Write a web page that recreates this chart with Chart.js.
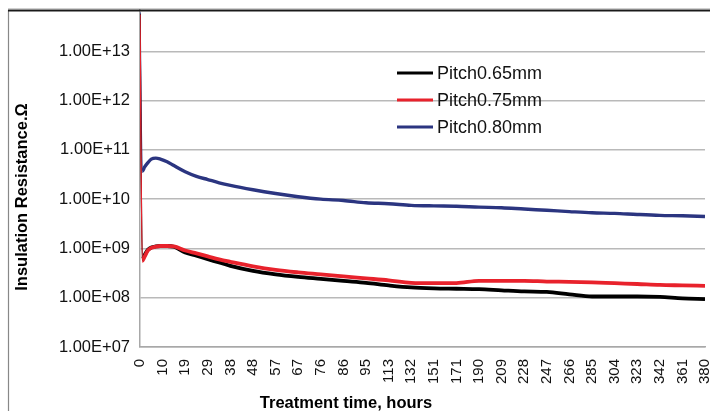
<!DOCTYPE html>
<html>
<head>
<meta charset="utf-8">
<script src="https://cdn.jsdelivr.net/npm/chart.js@4/dist/chart.umd.min.js"></script>
<style>
  html, body { margin: 0; padding: 0; background: #fff; }
  #wrap { width: 710px; height: 411px; position: relative; }
</style>
</head>
<body>
<div id="wrap"><canvas id="myChart"></canvas></div>
<script>
// x is the logger sample number; a time label sits every 20 samples
const samplesPerLabel = 20;
const hourLabels = ['0', '10', '19', '29', '38', '48', '57', '67', '76', '86', '95',
    '113', '132', '151', '171', '190', '209', '228', '247', '266', '285', '304', '323', '342', '361', '380'];
const sampleIdx = [0, 2, 4, 7, 10, 14, 18, 24, 30, 40, 50, 60, 70, 80,
    100, 120, 140, 160, 180, 200, 220, 240, 260, 280, 300, 320, 340, 360, 380, 400, 420, 440, 460, 480, 500];

const pitch065 = [5.8e13, 6.0e8, 7.3e8, 9.4e8, 1.05e9, 1.1e9, 1.12e9, 1.12e9, 1.08e9, 8.3e8, 7.1e8, 6.05e8, 5.2e8, 4.43e8,
    3.5e8, 2.98e8, 2.65e8, 2.41e8, 2.19e8, 2.0e8, 1.78e8, 1.62e8, 1.55e8, 1.52e8, 1.49e8, 1.41e8, 1.34e8, 1.31e8, 1.17e8, 1.06e8, 1.06e8, 1.06e8, 1.04e8, 9.7e7, 9.4e7];
const pitch075 = [5.6e13, 5.6e8, 6.75e8, 9.1e8, 1.03e9, 1.09e9, 1.12e9, 1.12e9, 1.1e9, 9.1e8, 7.95e8, 6.9e8, 6.0e8, 5.35e8,
    4.33e8, 3.67e8, 3.27e8, 2.98e8, 2.71e8, 2.47e8, 2.25e8, 2.0e8, 1.97e8, 1.98e8, 2.2e8, 2.2e8, 2.2e8, 2.13e8, 2.1e8, 2.05e8, 1.97e8, 1.9e8, 1.82e8, 1.78e8, 1.74e8];
const pitch080 = [6.2e13, 3.66e10, 4.45e10, 5.5e10, 6.5e10, 6.8e10, 6.5e10, 5.75e10, 4.8e10, 3.6e10, 2.9e10, 2.5e10, 2.15e10, 1.9e10,
    1.55e10, 1.3e10, 1.12e10, 1.0e10, 9.4e9, 8.45e9, 8.1e9, 7.5e9, 7.3e9, 7.2e9, 6.9e9, 6.7e9, 6.3e9, 5.95e9, 5.6e9, 5.3e9, 5.15e9, 4.9e9, 4.7e9, 4.6e9, 4.45e9];

const seriesNames = ['Pitch0.65mm', 'Pitch0.75mm', 'Pitch0.80mm'];
const yTicks = [1e7, 1e8, 1e9, 1e10, 1e11, 1e12, 1e13];
const yTickLabels = ['1.00E+07', '1.00E+08', '1.00E+09', '1.00E+10', '1.00E+11', '1.00E+12', '1.00E+13'];

const FONT = '"Liberation Sans", Arial, sans-serif';

function pts(values) {
    return values.map(function(v, i) { return { x: sampleIdx[i], y: v }; });
}

function makeSet(label, values, color, width, order) {
    return {
        label: label,
        data: pts(values),
        borderColor: color,
        backgroundColor: color,
        borderWidth: width,
        pointRadius: 0,
        cubicInterpolationMode: 'monotone',
        order: order,
        segment: {
            // the initial drop is drawn as a hairline
            borderWidth: function(ctx) { return ctx.p0DataIndex === 0 ? 1.3 : width; }
        }
    };
}

// frame, axis titles and an in-plot legend
const decorations = {
    id: 'decorations',
    afterDraw: function(chart) {
        const c = chart.ctx;
        c.save();
        c.strokeStyle = '#d0d0d0';
        c.lineWidth = 1;
        c.beginPath();
        c.moveTo(8, 8.5);
        c.lineTo(710, 8.5);
        c.stroke();
        c.strokeStyle = '#888';
        c.lineWidth = 1.2;
        c.beginPath();
        c.moveTo(8.5, 10);
        c.lineTo(8.5, 411);
        c.stroke();
        c.strokeStyle = '#1a1a1a';
        c.lineWidth = 1.8;
        c.beginPath();
        c.moveTo(8, 10.5);
        c.lineTo(710, 10.5);
        c.stroke();

        c.fillStyle = '#000';
        c.font = 'bold 16.5px ' + FONT;
        c.textAlign = 'center';
        c.textBaseline = 'middle';
        c.fillText('Treatment time, hours', 346, 403);
        c.translate(22, 197);
        c.rotate(-Math.PI / 2);
        c.fillText('Insulation Resistance.\u03A9', 0, 0);
        c.restore();

        c.save();
        c.font = '18px ' + FONT;
        c.textAlign = 'left';
        c.textBaseline = 'middle';
        const rows = [73, 100, 127];
        chart.data.datasets.forEach(function(ds, i) {
            c.strokeStyle = ds.borderColor;
            c.lineWidth = 3.2;
            c.beginPath();
            c.moveTo(397, rows[i]);
            c.lineTo(433, rows[i]);
            c.stroke();
            c.fillStyle = '#111';
            c.fillText(ds.label, 437, rows[i] + 1);
        });
        c.restore();
    }
};

const config = {
    type: 'line',
    data: {
        datasets: [
            makeSet(seriesNames[0], pitch065, '#000000', 3.8, 1),
            makeSet(seriesNames[1], pitch075, '#e8222c', 3.8, 0),
            makeSet(seriesNames[2], pitch080, '#2b3580', 3.4, 2)
        ]
    },
    options: {
        responsive: true,
        maintainAspectRatio: false,
        animation: false,
        layout: { padding: { left: 0, top: 10, right: 5, bottom: 0 } },
        plugins: {
            legend: { display: false },
            tooltip: { enabled: false }
        },
        scales: {
            x: {
                type: 'linear',
                min: 0,
                max: (hourLabels.length - 1) * samplesPerLabel,
                afterBuildTicks: function(scale) {
                    scale.ticks = hourLabels.map(function(h, i) { return { value: i * samplesPerLabel }; });
                },
                afterFit: function(scale) {
                    scale.height = 64;
                    scale.paddingLeft = 0;
                    scale.paddingRight = 0;
                },
                ticks: {
                    autoSkip: false,
                    minRotation: 90,
                    maxRotation: 90,
                    padding: 4,
                    color: '#111',
                    font: { family: FONT, size: 15 },
                    callback: function(v) { return hourLabels[Math.round(v / samplesPerLabel)]; }
                },
                grid: { display: false },
                border: { display: true, color: '#a8a8a8', width: 1.5 }
            },
            y: {
                type: 'logarithmic',
                min: 1e7,
                max: 6.9e13,
                afterBuildTicks: function(scale) {
                    scale.ticks = yTicks.map(function(v) { return { value: v }; });
                },
                afterFit: function(scale) {
                    scale.width = 140;
                    scale.paddingTop = 0;
                    scale.paddingBottom = 0;
                },
                ticks: {
                    padding: 10,
                    color: '#111',
                    font: { family: FONT, size: 16.5 },
                    callback: function(v) {
                        const i = yTicks.indexOf(v);
                        return i >= 0 ? yTickLabels[i] : '';
                    }
                },
                grid: { color: '#b9b9b9', lineWidth: 1.5, drawTicks: false },
                border: { display: true, color: '#a8a8a8', width: 1.5 }
            }
        }
    },
    plugins: [decorations]
};

const ctx = document.getElementById('myChart').getContext('2d');
new Chart(ctx, config);
</script>
</body>
</html>
